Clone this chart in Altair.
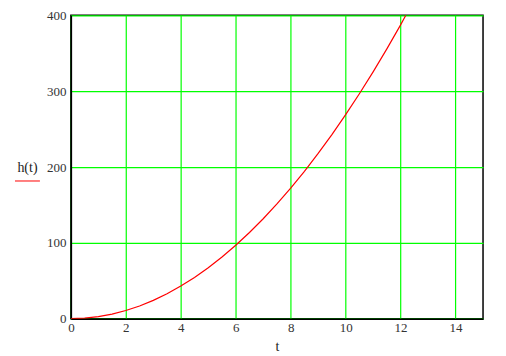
import altair as alt
import pandas as pd

t_vals = [0, 0.5, 1, 1.5, 2, 2.5, 3, 3.5, 4, 4.5, 5, 5.5, 6, 6.5, 7, 7.5, 8,
          8.5, 9, 9.5, 10, 10.5, 11, 11.5, 12, 12.19]
h_vals = [0, 0.7, 2.7, 6.1, 10.8, 16.8, 24.2, 33.0, 43.0, 54.5, 67.3, 81.4,
          96.8, 113.7, 131.8, 151.3, 172.2, 194.3, 217.9, 242.8, 269.0, 296.6,
          325.5, 355.8, 387.4, 400.0]
x_ticks = [0, 2, 4, 6, 8, 10, 12, 14]
y_ticks = [0, 100, 200, 300, 400]

df = pd.DataFrame({"t": t_vals, "h": h_vals})

FONT = "'Liberation Serif', 'DejaVu Serif', serif"

line = alt.Chart(df).mark_line(color="#FF0000", strokeWidth=1.2, clip=True).encode(
    x=alt.X("t:Q", scale=alt.Scale(domain=[0, 15], nice=False),
            axis=alt.Axis(values=x_ticks, title="t", grid=True, gridColor="#00FF00",
                          gridWidth=1.2, gridOpacity=1, ticks=False, domainColor="black",
                          domainWidth=1.5, labelPadding=3, titlePadding=5,
                          labelFlush=False)),
    y=alt.Y("h:Q", scale=alt.Scale(domain=[0, 400], nice=False),
            axis=alt.Axis(values=y_ticks, title="h(t)", grid=True, gridColor="#00FF00",
                          gridWidth=1.2, gridOpacity=1, ticks=False, domainColor="black",
                          domainWidth=1.5, labelPadding=5, titleAngle=0,
                          titleAlign="center", titleBaseline="middle", titleX=-44,
                          titleY=152, labelFlush=False)),
)

underline = alt.Chart(pd.DataFrame({"k": [0]})).mark_rule(
    color="#FF0000", strokeWidth=1
).encode(x=alt.value(-56), x2=alt.value(-31), y=alt.value(166))

chart = alt.layer(line, underline).properties(
    width=413, height=304,
    autosize=alt.AutoSizeParams(type="none"),
    padding={"left": 63, "top": 7, "right": 15, "bottom": 34},
).configure_view(stroke="black", strokeWidth=1.5).configure_axis(
    labelFont=FONT, labelFontSize=13, labelColor="#333333",
    titleFont=FONT, titleFontSize=14, titleFontWeight="normal", titleColor="#222222",
)

chart.save("out.html", embed_options={"renderer": "svg", "actions": False})
